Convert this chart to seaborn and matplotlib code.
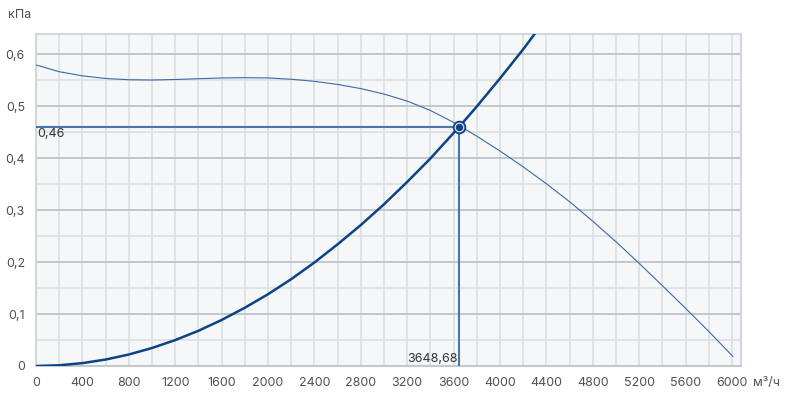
import matplotlib
matplotlib.use("Agg")
import matplotlib.pyplot as plt
import seaborn as sns
import pandas as pd
import numpy as np

# ---- data ----
fan_flow = [0, 200, 400, 600, 800, 1000, 1200, 1400, 1600, 1800, 2000, 2200, 2400,
            2600, 2800, 3000, 3200, 3400, 3600, 3800, 4000, 4200, 4400, 4600, 4800,
            5000, 5200, 5400, 5600, 5800, 6010]
fan_pressure = [0.579, 0.566, 0.558, 0.553, 0.5505, 0.5500, 0.5510, 0.5525, 0.554, 0.5545,
                0.554, 0.5515, 0.5475, 0.5415, 0.5335, 0.5230, 0.5095, 0.4915, 0.4685, 0.442,
                0.4135, 0.3830, 0.3505, 0.3160, 0.2785, 0.2390, 0.1975, 0.1545, 0.1110, 0.0665,
                0.018]

sys_flow = [0, 200, 400, 600, 800, 1000, 1200, 1400, 1600, 1800, 2000, 2200, 2400,
            2600, 2800, 3000, 3200, 3400, 3648.68, 3800, 4000, 4200, 4300]
sys_pressure = [0.0, 0.0014, 0.0055, 0.0124, 0.0221, 0.0346, 0.0498, 0.0677, 0.0885,
                0.112, 0.138, 0.167, 0.199, 0.234, 0.271, 0.311, 0.354, 0.399, 0.46,
                0.499, 0.553, 0.609, 0.639]

op_flow = 3648.68
op_pressure = 0.46
op_flow_label = "3648,68"
op_pressure_label = "0,46"

x_ticks = list(range(0, 6001, 400))
y_ticks = [0, 0.1, 0.2, 0.3, 0.4, 0.5, 0.6]
y_tick_labels = ["0", "0,1", "0,2", "0,3", "0,4", "0,5", "0,6"]
y_unit = "кПа"
x_unit = "м³/ч"

# ---- styling ----
sns.set_style("white")
plt.rcParams['font.family'] = ['Inter', 'DejaVu Sans']

navy = "#0b4384"
thin_blue = "#3b69a6"
op_blue = "#4a76ad"
grid_minor = "#dcdfe3"
grid_major = "#b9bfc7"
tick_col = "#505050"

fig = plt.figure(figsize=(7.86, 3.95), dpi=100)
ax = fig.add_axes([36 / 786, 29 / 395, 705 / 786, 332 / 395])
ax.set_facecolor("#f5f7f9")

ax.set_xlim(0, 6078)
ax.set_ylim(0, 0.6385)

# grid
ax.set_xticks(np.arange(0, 6001, 200), minor=True)
ax.set_yticks(np.arange(0.05, 0.64, 0.1), minor=True)
ax.set_xticks(x_ticks)
ax.set_yticks(y_ticks)
ax.set_yticklabels(y_tick_labels)
ax.set_xticklabels([str(v) for v in x_ticks])
ax.grid(which="both", axis="x", color=grid_minor, linewidth=1.2)
ax.grid(which="minor", axis="y", color=grid_minor, linewidth=1.2)
ax.grid(which="major", axis="y", color=grid_major, linewidth=1.2)
ax.set_axisbelow(True)

ax.tick_params(axis="y", which="major", length=6, width=1.2, color=grid_major,
               labelsize=9, labelcolor=tick_col, pad=2)
ax.tick_params(axis="x", which="major", length=4, width=1.2, color=grid_minor,
               labelsize=9, labelcolor=tick_col, pad=4)
ax.tick_params(which="minor", length=0)

for side, sp in ax.spines.items():
    sp.set_color("#d3d7dc")
    sp.set_linewidth(1.5)
ax.spines["bottom"].set_color("#c3c8ce")

fan_df = pd.DataFrame({"flow": fan_flow, "pressure": fan_pressure})
sys_df = pd.DataFrame({"flow": sys_flow, "pressure": sys_pressure})

sns.lineplot(data=fan_df, x="flow", y="pressure", ax=ax, color=thin_blue,
             linewidth=0.8, zorder=3)
sns.lineplot(data=sys_df, x="flow", y="pressure", ax=ax, color=navy,
             linewidth=1.8, zorder=4)

# operating point guide lines
ax.plot([0, op_flow], [op_pressure, op_pressure], color=op_blue, linewidth=1.5, zorder=3)
ax.plot([op_flow, op_flow], [0, op_pressure], color=op_blue, linewidth=1.5, zorder=3)

# operating point marker
ax.scatter([op_flow], [op_pressure], s=95, color=navy, zorder=6, linewidths=0)
ax.scatter([op_flow], [op_pressure], s=50, color="#dce6f2", zorder=7, linewidths=0)
ax.scatter([op_flow], [op_pressure], s=28, color=navy, zorder=8, linewidths=0)

ax.set_xlabel("")
ax.set_ylabel("")

ax.annotate(op_pressure_label, xy=(0, op_pressure), xytext=(1, -1),
            textcoords="offset pixels", ha="left", va="top", fontsize=9,
            color="#333333", zorder=9)
ax.annotate(op_flow_label, xy=(op_flow, 0), xytext=(-2, 1),
            textcoords="offset pixels", ha="right", va="bottom", fontsize=9,
            color="#333333", zorder=9)

fig.text(8 / 786, 1 - 15 / 395, y_unit, ha="left", va="center", fontsize=9, color=tick_col)
fig.text(753 / 786, 1 - 383 / 395, x_unit, ha="left", va="center", fontsize=9, color=tick_col)

fig.savefig("out.png", dpi=100)
